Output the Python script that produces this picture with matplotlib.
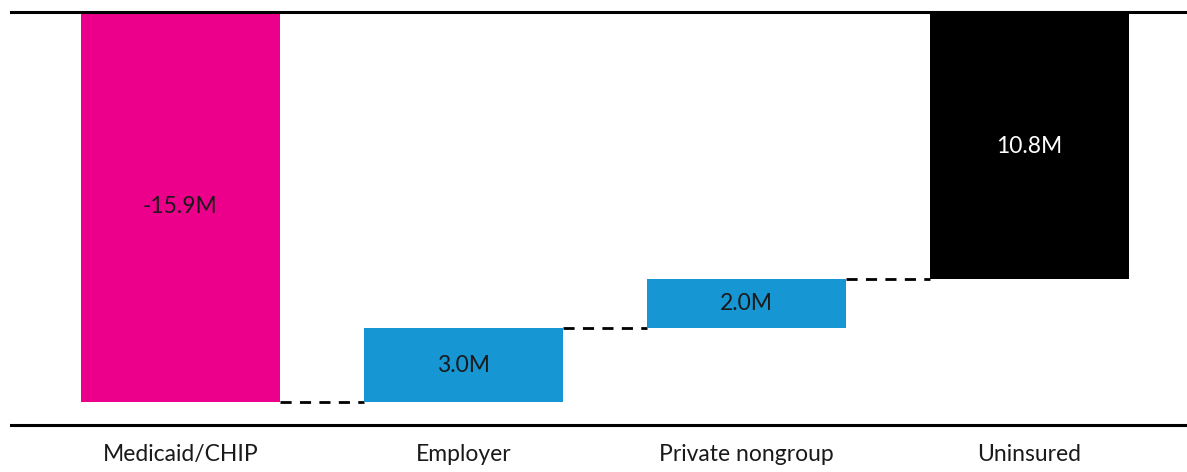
import matplotlib.pyplot as plt
import numpy as np

# coverage change by source, millions
categories = ["Medicaid/CHIP", "Employer", "Private nongroup", "Uninsured"]
changes = [-15.9, 3.0, 2.0, 10.8]
labels = ["-15.9M", "3.0M", "2.0M", "10.8M"]
colors = ["#EC008B", "#1696D2", "#1696D2", "#000000"]
text_colors = ["#1a1a1a", "#1a1a1a", "#1a1a1a", "#FFFFFF"]

plt.rcParams['font.family'] = ['Lato', 'DejaVu Sans']

fig = plt.figure(figsize=(11.87, 4.72), dpi=100)
ax = fig.add_axes([11 / 1187, 1 - 425 / 472, 1 - 11 / 1187, (425 - 12) / 472])

x = np.arange(len(categories))
width = 0.70

# waterfall: first bar falls from the start level to zero, the rest stack up
start = -changes[0]
bottoms = []
tops = []
level = start
for c in changes:
    new = level + c
    bottoms.append(min(level, new))
    tops.append(max(level, new))
    level = new

for i in range(len(categories)):
    ax.bar(x[i], tops[i] - bottoms[i], bottom=bottoms[i], width=width,
           color=colors[i], zorder=2)
    ax.text(x[i], (tops[i] + bottoms[i]) / 2, labels[i], ha="center", va="center",
            fontsize=16.5, color=text_colors[i], zorder=3)

# dashed connectors between neighbouring bars
level = start
for i in range(len(categories) - 1):
    level += changes[i]
    ax.plot([x[i] + width / 2, x[i + 1] - width / 2], [level, level],
            color="black", lw=2, dashes=(4, 3), zorder=1)

ax.set_xlim((11 - 180.5) / 283, (1187 - 180.5) / 283)
ax.set_ylim(-0.94, start)
ax.set_xticks(x)
ax.set_xticklabels(categories, fontsize=16.5, color="#1a1a1a")
ax.tick_params(axis="x", length=0, pad=14)
ax.set_yticks([])
for side in ["left", "right"]:
    ax.spines[side].set_visible(False)
for side in ["top", "bottom"]:
    ax.spines[side].set_linewidth(2.2)
    ax.spines[side].set_zorder(4)

fig.savefig("out.png", dpi=100)
